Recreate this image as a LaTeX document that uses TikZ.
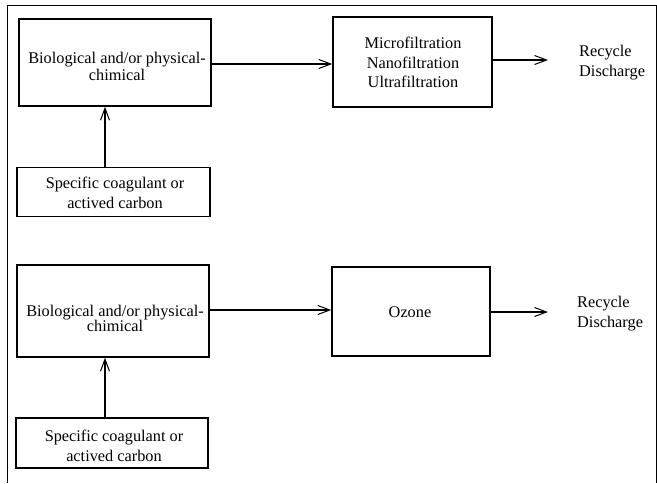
\documentclass[tikz,border=0pt]{standalone}
\usepackage{fontspec}
\setmainfont{Liberation Serif}
\usetikzlibrary{arrows.meta}
\begin{document}
\begin{tikzpicture}[x=1pt,y=-1pt,
  blk/.style={draw,line width=1.6pt,inner sep=0pt},
  txt/.style={align=center,inner sep=0pt,font=\fontsize{16.3}{19.5}\selectfont},
  lbl/.style={align=left,inner sep=0pt,font=\fontsize{16.3}{20}\selectfont},
  flow/.style={line width=1.1pt,-{Straight Barb[length=12pt,width=9pt,line width=1pt]}}]
\useasboundingbox (0,0) rectangle (657,483);
\draw[line width=0.8pt] (7,483) -- (7,5) -- (656,5) -- (656,483);
% top
\node[blk,minimum width=192pt,minimum height=87pt] (b1) at (115,62.5) {};
\node[txt,font=\fontsize{16.3}{17}\selectfont] (b1t) at (117,66.5) {Biological and/or physical-\\chimical};
\node[blk,minimum width=159pt,minimum height=90pt] (m1) at (412.5,62) {};
\node[txt] (m1t) at (413,62.5) {Microfiltration\\Nanofiltration\\Ultrafiltration};
\node[blk,minimum width=193pt,minimum height=49pt] (s1) at (113.5,192) {};
\node[txt,font=\fontsize{16.3}{20}\selectfont] (s1t) at (115,193) {Specific coagulant or\\actived carbon};
\node[lbl,anchor=west] (r1) at (579,63) {Recycle\\Discharge};
\coordinate (e1) at (548,60);
\draw[flow] (b1.east |- 0,64) -- (m1.west |- 0,64);
\draw[flow] (m1.east |- e1) -- (e1);
\draw[flow] (s1.north -| 105,0) -- (b1.south -| 105,0);
% bottom
\node[blk,minimum width=192pt,minimum height=92pt] (b2) at (113,311) {};
\node[txt,font=\fontsize{16.3}{14}\selectfont] (b2t) at (115,318.5) {Biological and/or physical-\\chimical};
\node[blk,minimum width=192pt,minimum height=50pt] (s2) at (112,443) {};
\node[txt,font=\fontsize{16.3}{20}\selectfont] (s2t) at (114,446) {Specific coagulant or\\actived carbon};
\node[blk,minimum width=158pt,minimum height=89pt] (o2) at (411,311.5) {};
\node[txt] (o2t) at (410,312) {Ozone};
\node[lbl,anchor=west] (r2) at (577,313.5) {Recycle\\Discharge};
\coordinate (e2) at (548,312);
\draw[flow] (b2.east |- 0,310) -- (o2.west |- 0,310);
\draw[flow] (o2.east |- e2) -- (e2);
\draw[flow] (s2.north -| 105,0) -- (b2.south -| 105,0);
\end{tikzpicture}
\end{document}
